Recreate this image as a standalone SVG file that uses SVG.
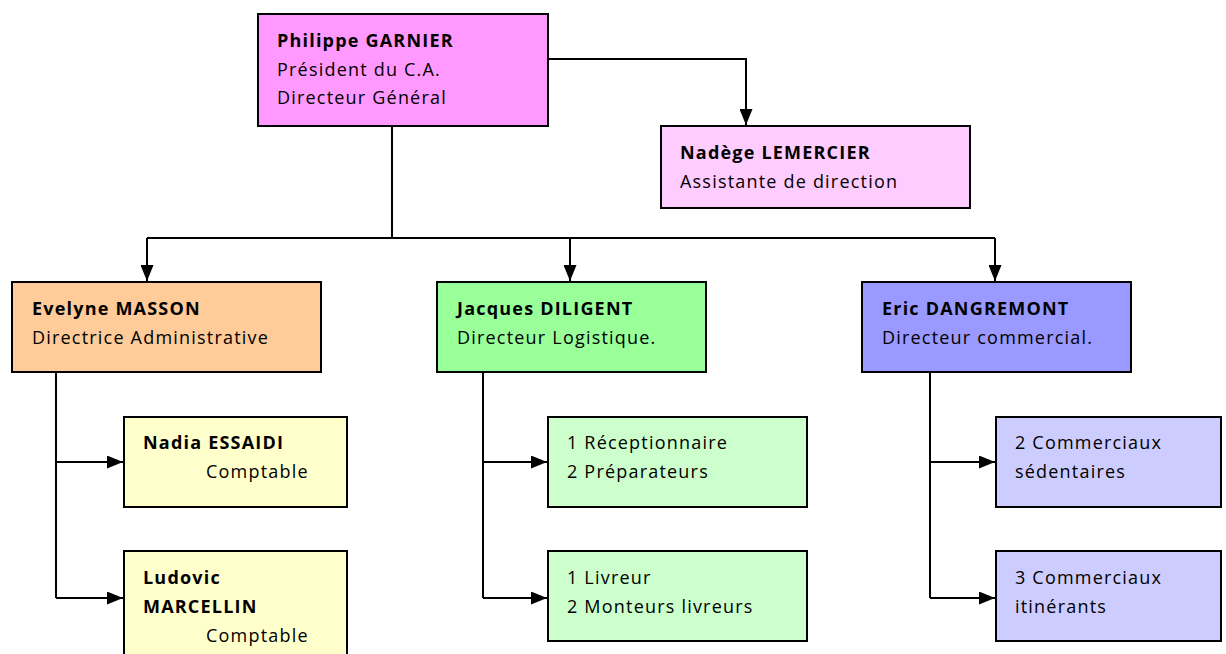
<svg xmlns="http://www.w3.org/2000/svg" width="1226" height="654" viewBox="0 0 1226 654">
<defs>
<marker id="arr" viewBox="0 0 16 13" refX="16" refY="6.5" markerWidth="8" markerHeight="6.5" markerUnits="strokeWidth" orient="auto">
<path d="M0,0 L16,6.5 L0,13 z" fill="#000"/>
</marker>
<style>
.box{stroke:#000;stroke-width:2}
.t{font-family:"Open Sans","Noto Sans","Liberation Sans",sans-serif;font-size:18px;letter-spacing:1.2px;fill:#000}
.b{font-weight:bold}
.c{fill:none;stroke:#000;stroke-width:2}
</style>
</defs>
<rect width="1226" height="654" fill="#fff"/>
<g id="connectors">
<path class="c" d="M548,59 H746 V125" marker-end="url(#arr)"/>
<path class="c" d="M392,126 V238"/>
<path class="c" d="M147,238 H995"/>
<path class="c" d="M147,238 V281" marker-end="url(#arr)"/>
<path class="c" d="M570,238 V281" marker-end="url(#arr)"/>
<path class="c" d="M995,238 V281" marker-end="url(#arr)"/>
<path class="c" d="M56,372 V598"/>
<path class="c" d="M56,462 H123" marker-end="url(#arr)"/>
<path class="c" d="M56,598 H123" marker-end="url(#arr)"/>
<path class="c" d="M483,372 V598"/>
<path class="c" d="M483,462 H547" marker-end="url(#arr)"/>
<path class="c" d="M483,598 H547" marker-end="url(#arr)"/>
<path class="c" d="M930,372 V598"/>
<path class="c" d="M930,462 H995" marker-end="url(#arr)"/>
<path class="c" d="M930,598 H995" marker-end="url(#arr)"/>
</g>
<g id="garnier">
<rect class="box" x="258" y="14" width="290" height="112" fill="#FF99FF"/>
<text class="t b" x="277" y="47">Philippe GARNIER</text>
<text class="t" x="277" y="76">Président du C.A.</text>
<text class="t" x="277" y="104">Directeur Général</text>
</g>
<g id="lemercier">
<rect class="box" x="661" y="126" width="309" height="82" fill="#FFCCFF"/>
<text class="t b" x="680" y="159">Nadège LEMERCIER</text>
<text class="t" x="680" y="188">Assistante de direction</text>
</g>
<g id="masson">
<rect class="box" x="12" y="282" width="309" height="90" fill="#FFCC99"/>
<text class="t b" x="32" y="315">Evelyne MASSON</text>
<text class="t" x="32" y="344">Directrice Administrative</text>
</g>
<g id="diligent">
<rect class="box" x="437" y="282" width="269" height="90" fill="#99FF99"/>
<text class="t b" x="457" y="315">Jacques DILIGENT</text>
<text class="t" x="457" y="344">Directeur Logistique.</text>
</g>
<g id="dangremont">
<rect class="box" x="862" y="282" width="269" height="90" fill="#9999FF"/>
<text class="t b" x="882" y="315">Eric DANGREMONT</text>
<text class="t" x="882" y="344">Directeur commercial.</text>
</g>
<g id="essaidi">
<rect class="box" x="124" y="417" width="223" height="90" fill="#FFFFCC"/>
<text class="t b" x="143" y="449">Nadia ESSAIDI</text>
<text class="t" x="206" y="478">Comptable</text>
</g>
<g id="marcellin">
<rect class="box" x="124" y="551" width="223" height="112" fill="#FFFFCC"/>
<text class="t b" x="143" y="584">Ludovic</text>
<text class="t b" x="143" y="613">MARCELLIN</text>
<text class="t" x="206" y="642">Comptable</text>
</g>
<g id="logistique1">
<rect class="box" x="548" y="417" width="259" height="90" fill="#CCFFCC"/>
<text class="t" x="567" y="449">1 Réceptionnaire</text>
<text class="t" x="567" y="478">2 Préparateurs</text>
</g>
<g id="logistique2">
<rect class="box" x="548" y="551" width="259" height="90" fill="#CCFFCC"/>
<text class="t" x="567" y="584">1 Livreur</text>
<text class="t" x="567" y="613">2 Monteurs livreurs</text>
</g>
<g id="commercial1">
<rect class="box" x="996" y="417" width="225" height="90" fill="#CCCCFF"/>
<text class="t" x="1015" y="449">2 Commerciaux</text>
<text class="t" x="1015" y="478">sédentaires</text>
</g>
<g id="commercial2">
<rect class="box" x="996" y="551" width="225" height="90" fill="#CCCCFF"/>
<text class="t" x="1015" y="584">3 Commerciaux</text>
<text class="t" x="1015" y="613">itinérants</text>
</g>
</svg>
